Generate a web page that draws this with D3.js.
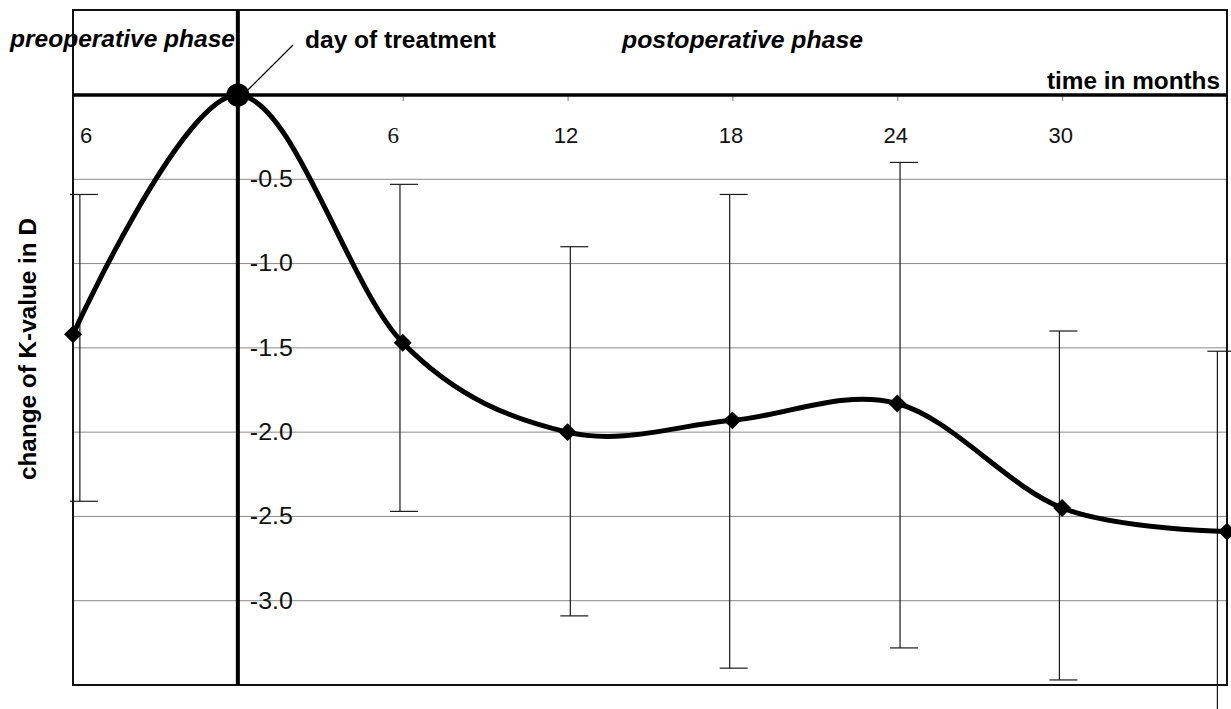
<!DOCTYPE html>
<html>
<head>
<meta charset="utf-8">
<script src="https://cdnjs.cloudflare.com/ajax/libs/d3/7.8.5/d3.min.js"></script>
<style>
  body { margin: 0; background: #fff; }
  svg { display: block; font-family: "Liberation Sans", Arial, sans-serif; }
</style>
</head>
<body>
<div id="chart"></div>
<script>
// months relative to day of treatment, mean change of K-value (D)
const months = [-6, 0, 6, 12, 18, 24, 30, 36];
const meanK = [-1.42, 0, -1.47, -2.00, -1.93, -1.83, -2.45, -2.59];

// error bars (no bar on the day of treatment)
const errMonths = [-5.75, 5.9, 12.1, 17.9, 24.1, 29.9, 35.65];
const errHigh = [-0.59, -0.53, -0.90, -0.59, -0.40, -1.40, -1.52];
const errLow = [-2.41, -2.47, -3.09, -3.40, -3.28, -3.47, -3.75];

const xTicks = [6, 12, 18, 24, 30];
const xTickLabels = ["6", "12", "18", "24", "30"];
const preopLabel = "6";
const yTicks = [-0.5, -1.0, -1.5, -2.0, -2.5, -3.0];

const width = 1231, height = 709;
const frame = { left: 73, right: 1227, top: 10, bottom: 685 };
const axisY = 95;

const svg = d3.select("#chart").append("svg")
  .attr("width", width)
  .attr("height", height);

svg.append("rect").attr("width", width).attr("height", height).attr("fill", "#fff");

const x = d3.scaleLinear().domain([-6, 36]).range([frame.left, frame.right]);
const y = d3.scaleLinear().domain([0, -3.5]).range([axisY, frame.bottom]);

// gridlines
svg.append("g")
  .selectAll("line")
  .data(yTicks)
  .join("line")
  .attr("x1", frame.left)
  .attr("x2", frame.right)
  .attr("y1", d => y(d))
  .attr("y2", d => y(d))
  .attr("stroke", "#8a8a8a")
  .attr("stroke-width", 1);

// frame
svg.append("rect")
  .attr("x", frame.left)
  .attr("y", frame.top)
  .attr("width", frame.right - frame.left)
  .attr("height", frame.bottom - frame.top)
  .attr("fill", "none")
  .attr("stroke", "#111")
  .attr("stroke-width", 2);

// time axis along the top
const xAxis = d3.axisBottom(x)
  .tickValues(xTicks)
  .tickSize(6)
  .tickPadding(26)
  .tickFormat((d, i) => xTickLabels[i]);

const gx = svg.append("g")
  .attr("transform", `translate(0,${axisY})`)
  .call(xAxis);
gx.select(".domain").remove();
gx.selectAll(".tick line").attr("stroke", "#777").attr("stroke-width", 1);
gx.selectAll(".tick text")
  .attr("fill", "#111")
  .style("font-size", d => d === 6 ? "23px" : "22px")
  .style("font-family", d => d === 6 ? "'Liberation Serif', 'Times New Roman', serif" : null)
  .attr("dx", d => d === 6 ? -10 : -2);

svg.append("text")
  .attr("x", x(-6) + 13)
  .attr("y", 143)
  .attr("text-anchor", "middle")
  .style("font-size", "22px")
  .attr("fill", "#111")
  .text(preopLabel);

// value axis sitting on the day-of-treatment line
const yAxis = d3.axisRight(y)
  .tickValues(yTicks)
  .tickSize(0)
  .tickPadding(12)
  .tickFormat(d => d.toFixed(1));

const gy = svg.append("g")
  .attr("transform", `translate(${x(0)},0)`)
  .call(yAxis);
gy.select(".domain").remove();
gy.selectAll(".tick text")
  .attr("fill", "#111")
  .attr("textLength", 43)
  .attr("lengthAdjust", "spacingAndGlyphs")
  .style("font-size", "23px");

// thick horizontal and vertical reference lines
svg.append("line")
  .attr("x1", frame.left).attr("x2", frame.right)
  .attr("y1", y(0)).attr("y2", y(0))
  .attr("stroke", "#000").attr("stroke-width", 3.5);

svg.append("line")
  .attr("x1", x(0)).attr("x2", x(0))
  .attr("y1", frame.top).attr("y2", frame.bottom)
  .attr("stroke", "#000").attr("stroke-width", 4);

// error bars
const errData = errMonths.map((m, i) => ({ m, hi: errHigh[i], lo: errLow[i] }));
const eb = svg.append("g").attr("stroke", "#1a1a1a").attr("stroke-width", 1.2);
eb.selectAll("line.stem")
  .data(errData)
  .join("line")
  .attr("class", "stem")
  .attr("x1", d => x(d.m)).attr("x2", d => x(d.m))
  .attr("y1", d => y(d.hi)).attr("y2", d => y(d.lo));
eb.selectAll("line.capHi")
  .data(errData)
  .join("line")
  .attr("class", "capHi")
  .attr("x1", d => x(d.m) - 10).attr("x2", d => x(d.m) + 18)
  .attr("y1", d => y(d.hi)).attr("y2", d => y(d.hi));
eb.selectAll("line.capLo")
  .data(errData)
  .join("line")
  .attr("class", "capLo")
  .attr("x1", d => x(d.m) - 10).attr("x2", d => x(d.m) + 18)
  .attr("y1", d => y(d.lo)).attr("y2", d => y(d.lo));

// smoothed mean curve
const points = months.map((m, i) => ({ m, v: meanK[i] }));
const line = d3.line()
  .x(d => x(d.m))
  .y(d => y(d.v))
  .curve(d3.curveCardinal.tension(0));

svg.append("path")
  .datum(points)
  .attr("d", line)
  .attr("fill", "none")
  .attr("stroke", "#000")
  .attr("stroke-width", 5)
  .attr("stroke-linejoin", "round");

// diamond markers
const diamond = d3.symbol().type(d3.symbolSquare).size(160);
svg.append("g")
  .selectAll("path")
  .data(points.filter(d => d.m !== 0))
  .join("path")
  .attr("d", diamond)
  .attr("transform", d => `translate(${x(d.m)},${y(d.v)}) rotate(45)`)
  .attr("fill", "#000");

// day of treatment dot and leader
svg.append("line")
  .attr("x1", x(0) + 9).attr("y1", y(0) - 4)
  .attr("x2", 293).attr("y2", 45)
  .attr("stroke", "#000").attr("stroke-width", 1.2);

svg.append("circle")
  .attr("cx", x(0))
  .attr("cy", y(0))
  .attr("r", 11.5)
  .attr("fill", "#000");

// header texts
function label(txt, xPos, yPos, len, italic) {
  svg.append("text")
    .attr("x", xPos)
    .attr("y", yPos)
    .attr("textLength", len)
    .attr("lengthAdjust", "spacingAndGlyphs")
    .style("font-size", "23px")
    .style("font-weight", "bold")
    .style("font-style", italic ? "italic" : "normal")
    .attr("fill", "#000")
    .text(txt);
}
label("preoperative phase", 10, 47, 225, true);
label("day of treatment", 305, 48, 191, false);
label("postoperative phase", 622, 48, 241, true);
label("time in months", 1047, 89, 173, false);

// y title
svg.append("text")
  .attr("transform", "translate(36,349) rotate(-90)")
  .attr("text-anchor", "middle")
  .attr("textLength", 262)
  .attr("lengthAdjust", "spacingAndGlyphs")
  .style("font-size", "23px")
  .style("font-weight", "bold")
  .attr("fill", "#000")
  .text("change of K-value in D");
</script>
</body>
</html>
